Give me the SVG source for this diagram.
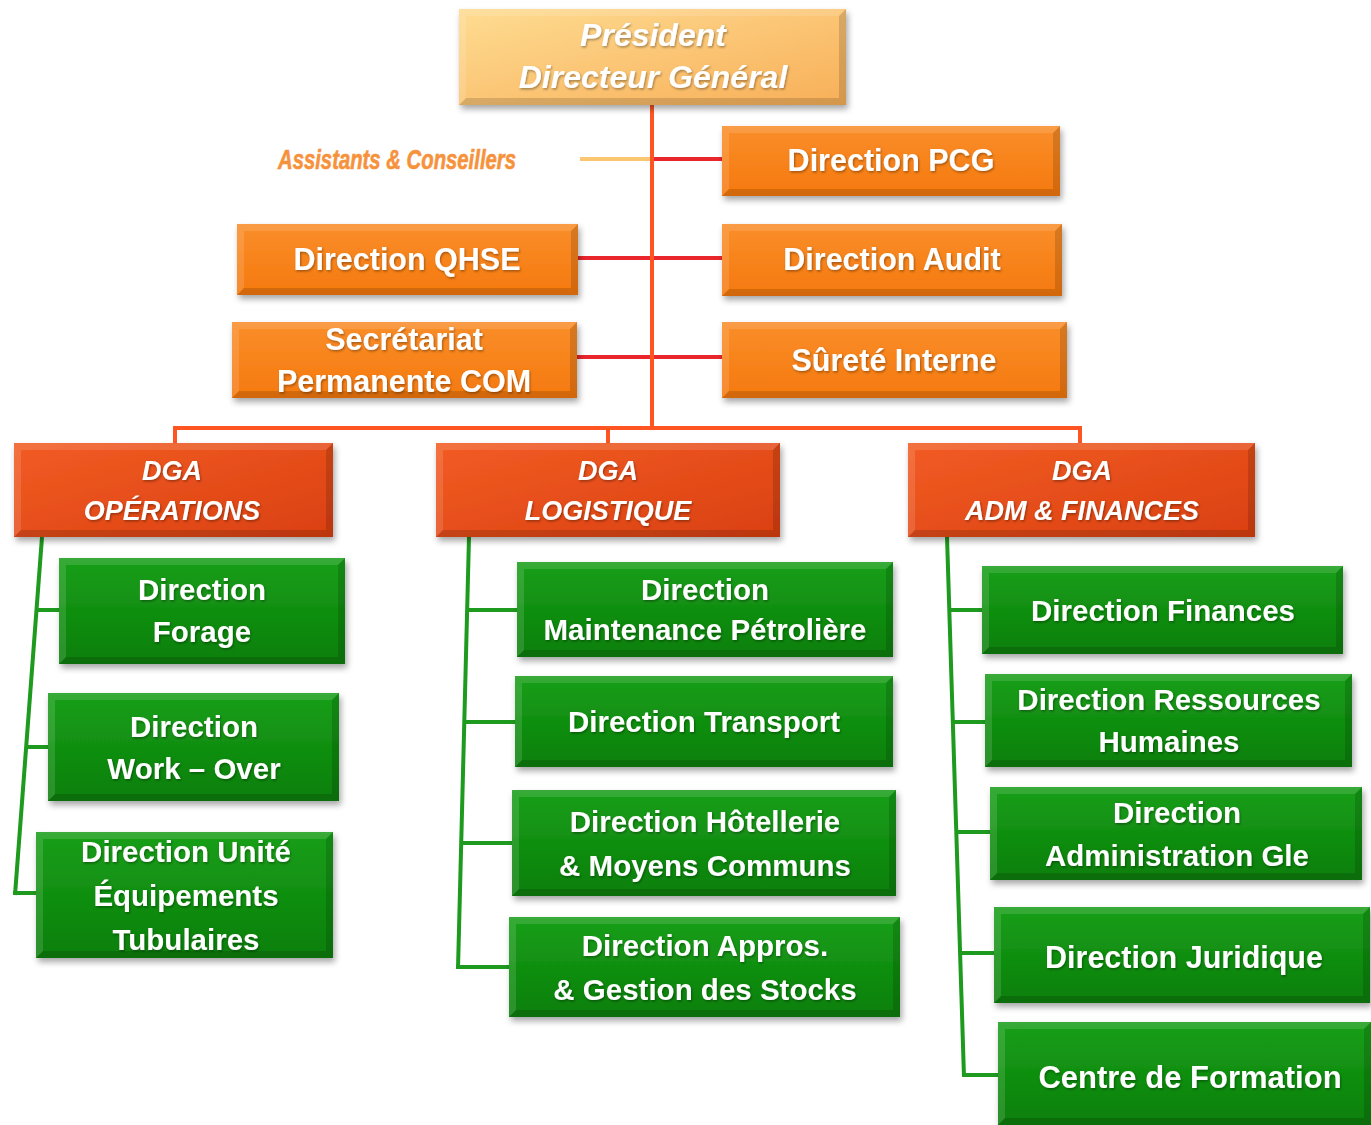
<svg xmlns="http://www.w3.org/2000/svg" width="1371" height="1125" viewBox="0 0 1371 1125">
<style>
.box{filter:url(#ds)}
.hl{fill:#ffffff;fill-opacity:0.13}
.sh{fill:#000000;fill-opacity:0.14}
.t{font-family:"Liberation Sans",Arial,sans-serif;font-weight:bold;fill:#ffffff;text-anchor:middle;filter:url(#ts)}
.ti{font-style:italic}
.s32{font-size:32px}
.s30{font-size:30.5px}
.s27{font-size:27px}
.s29{font-size:29.5px}
.s31{font-size:31px}
.pres{fill:url(#gPres)}
.or{fill:url(#gOr)}
.dga{fill:url(#gDga)}
.gr{fill:url(#gGr)}
.cOr{stroke:#FF5522;stroke-width:4;fill:none}
.cRed{stroke:#E8262C;stroke-width:4;fill:none}
.cPale{stroke:#FBC670;stroke-width:4;fill:none}
.cGr{stroke:#1E9A1E;stroke-width:4;fill:none}
</style>
<defs>
<linearGradient id="gPres" x1="0" y1="0" x2="1" y2="1"><stop offset="0" stop-color="#FEDC92"/><stop offset="1" stop-color="#F8AF58"/></linearGradient>
<linearGradient id="gOr" x1="0" y1="0" x2="0" y2="1"><stop offset="0" stop-color="#FA8E2A"/><stop offset="1" stop-color="#F5790E"/></linearGradient>
<linearGradient id="gDga" x1="0" y1="0" x2="1" y2="1"><stop offset="0" stop-color="#F25C24"/><stop offset="1" stop-color="#DA4010"/></linearGradient>
<linearGradient id="gGr" x1="0" y1="0" x2="0" y2="1"><stop offset="0" stop-color="#1A9F1A"/><stop offset="1" stop-color="#077F07"/></linearGradient>
<filter id="ds" x="-10%" y="-10%" width="125%" height="130%"><feDropShadow dx="2" dy="4" stdDeviation="3" flood-color="#000" flood-opacity="0.35"/></filter>
<filter id="ts" x="-5%" y="-20%" width="110%" height="150%"><feDropShadow dx="1" dy="1.5" stdDeviation="1" flood-color="#000" flood-opacity="0.35"/></filter>
</defs>

<g id="connectors">
<line class="cPale" x1="580" y1="159" x2="651" y2="159"/>
<line class="cRed" x1="653" y1="159" x2="724" y2="159"/>
<line class="cRed" x1="576" y1="258" x2="724" y2="258"/>
<line class="cRed" x1="575" y1="357" x2="724" y2="357"/>
<line class="cOr" x1="652" y1="105" x2="652" y2="428"/>
<polyline class="cOr" points="175,445 175,428 1080,428 1080,445"/>
<line class="cOr" x1="608" y1="428" x2="608" y2="445"/>
<line class="cGr" x1="42" y1="537" x2="15" y2="895"/>
<polyline class="cGr" points="37,610 61,610"/>
<polyline class="cGr" points="26,747 50,747"/>
<polyline class="cGr" points="13,893 38,893"/>
<line class="cGr" x1="469" y1="537" x2="458" y2="969"/>
<polyline class="cGr" points="466,610 519,610"/>
<polyline class="cGr" points="463,722 517,722"/>
<polyline class="cGr" points="460,843 514,843"/>
<polyline class="cGr" points="456,967 511,967"/>
<line class="cGr" x1="947" y1="537" x2="964" y2="1077"/>
<polyline class="cGr" points="949,610 984,610"/>
<polyline class="cGr" points="952,722 987,722"/>
<polyline class="cGr" points="955,832 992,832"/>
<polyline class="cGr" points="959,953 996,953"/>
<polyline class="cGr" points="962,1075 1000,1075"/>
</g>

<text id="assistants" x="397" y="169" font-family="Liberation Sans, Arial, sans-serif" font-weight="bold" font-style="italic" font-size="27" fill="#F7923C" stroke="#F7923C" stroke-width="0.6" text-anchor="middle" textLength="238" lengthAdjust="spacingAndGlyphs">Assistants &amp; Conseillers</text>

<g id="president" transform="translate(459,9)">
<rect class="box pres" width="387" height="96"/>
<path class="hl" d="M0,0H387L380,7H7V89L0,96Z"/><path class="sh" d="M387,0V96H0L7,89H380V7Z"/>
<text class="t ti s32" x="194" y="37">Président</text>
<text class="t ti s32" x="194" y="79">Directeur Général</text>
</g>

<g id="pcg" transform="translate(722,126)">
<rect class="box or" width="338" height="70"/>
<path class="hl" d="M0,0H338L331,7H7V63L0,70Z"/><path class="sh" d="M338,0V70H0L7,63H331V7Z"/>
<text class="t s30" x="169" y="45">Direction PCG</text>
</g>

<g id="qhse" transform="translate(237,224)">
<rect class="box or" width="341" height="71"/>
<path class="hl" d="M0,0H341L334,7H7V64L0,71Z"/><path class="sh" d="M341,0V71H0L7,64H334V7Z"/>
<text class="t s30" x="170" y="46">Direction QHSE</text>
</g>

<g id="audit" transform="translate(722,224)">
<rect class="box or" width="340" height="72"/>
<path class="hl" d="M0,0H340L333,7H7V65L0,72Z"/><path class="sh" d="M340,0V72H0L7,65H333V7Z"/>
<text class="t s30" x="170" y="46">Direction Audit</text>
</g>

<g id="secretariat" transform="translate(232,322)">
<rect class="box or" width="345" height="76"/>
<path class="hl" d="M0,0H345L338,7H7V69L0,76Z"/><path class="sh" d="M345,0V76H0L7,69H338V7Z"/>
<text class="t s30" x="172" y="28">Secrétariat</text>
<text class="t s30" x="172" y="70">Permanente COM</text>
</g>

<g id="surete" transform="translate(722,322)">
<rect class="box or" width="345" height="76"/>
<path class="hl" d="M0,0H345L338,7H7V69L0,76Z"/><path class="sh" d="M345,0V76H0L7,69H338V7Z"/>
<text class="t s30" x="172" y="49">Sûreté Interne</text>
</g>

<g id="dga-operations" transform="translate(14,443)">
<rect class="box dga" width="319" height="94"/>
<path class="hl" d="M0,0H319L312,7H7V87L0,94Z"/><path class="sh" d="M319,0V94H0L7,87H312V7Z"/>
<text class="t ti s27" x="158" y="37">DGA</text>
<text class="t ti s27" x="158" y="77">OPÉRATIONS</text>
</g>

<g id="dga-logistique" transform="translate(436,443)">
<rect class="box dga" width="344" height="94"/>
<path class="hl" d="M0,0H344L337,7H7V87L0,94Z"/><path class="sh" d="M344,0V94H0L7,87H337V7Z"/>
<text class="t ti s27" x="172" y="37">DGA</text>
<text class="t ti s27" x="172" y="77">LOGISTIQUE</text>
</g>

<g id="dga-adm-finances" transform="translate(908,443)">
<rect class="box dga" width="347" height="94"/>
<path class="hl" d="M0,0H347L340,7H7V87L0,94Z"/><path class="sh" d="M347,0V94H0L7,87H340V7Z"/>
<text class="t ti s27" x="174" y="37">DGA</text>
<text class="t ti s27" x="174" y="77">ADM &amp; FINANCES</text>
</g>

<g id="forage" transform="translate(59,558)">
<rect class="box gr" width="286" height="106"/>
<path class="hl" d="M0,0H286L279,7H7V99L0,106Z"/><path class="sh" d="M286,0V106H0L7,99H279V7Z"/>
<text class="t s29" x="143" y="42">Direction</text>
<text class="t s29" x="143" y="84">Forage</text>
</g>

<g id="workover" transform="translate(48,693)">
<rect class="box gr" width="291" height="108"/>
<path class="hl" d="M0,0H291L284,7H7V101L0,108Z"/><path class="sh" d="M291,0V108H0L7,101H284V7Z"/>
<text class="t s29" x="146" y="44">Direction</text>
<text class="t s29" x="146" y="86">Work – Over</text>
</g>

<g id="unite" transform="translate(36,832)">
<rect class="box gr" width="297" height="126"/>
<path class="hl" d="M0,0H297L290,7H7V119L0,126Z"/><path class="sh" d="M297,0V126H0L7,119H290V7Z"/>
<text class="t s29" x="150" y="30">Direction Unité</text>
<text class="t s29" x="150" y="74">Équipements</text>
<text class="t s29" x="150" y="118">Tubulaires</text>
</g>

<g id="maintenance" transform="translate(517,562)">
<rect class="box gr" width="376" height="95"/>
<path class="hl" d="M0,0H376L369,7H7V88L0,95Z"/><path class="sh" d="M376,0V95H0L7,88H369V7Z"/>
<text class="t s29" x="188" y="38">Direction</text>
<text class="t s29" x="188" y="78">Maintenance Pétrolière</text>
</g>

<g id="transport" transform="translate(515,676)">
<rect class="box gr" width="378" height="91"/>
<path class="hl" d="M0,0H378L371,7H7V84L0,91Z"/><path class="sh" d="M378,0V91H0L7,84H371V7Z"/>
<text class="t s29" x="189" y="56">Direction Transport</text>
</g>

<g id="hotellerie" transform="translate(512,790)">
<rect class="box gr" width="384" height="106"/>
<path class="hl" d="M0,0H384L377,7H7V99L0,106Z"/><path class="sh" d="M384,0V106H0L7,99H377V7Z"/>
<text class="t s29" x="193" y="42">Direction Hôtellerie</text>
<text class="t s29" x="193" y="86">&amp; Moyens Communs</text>
</g>

<g id="appros" transform="translate(509,917)">
<rect class="box gr" width="391" height="100"/>
<path class="hl" d="M0,0H391L384,7H7V93L0,100Z"/><path class="sh" d="M391,0V100H0L7,93H384V7Z"/>
<text class="t s29" x="196" y="39">Direction Appros.</text>
<text class="t s29" x="196" y="83">&amp; Gestion des Stocks</text>
</g>

<g id="finances" transform="translate(982,566)">
<rect class="box gr" width="361" height="88"/>
<path class="hl" d="M0,0H361L354,7H7V81L0,88Z"/><path class="sh" d="M361,0V88H0L7,81H354V7Z"/>
<text class="t s29" x="181" y="55">Direction Finances</text>
</g>

<g id="rh" transform="translate(985,674)">
<rect class="box gr" width="367" height="93"/>
<path class="hl" d="M0,0H367L360,7H7V86L0,93Z"/><path class="sh" d="M367,0V93H0L7,86H360V7Z"/>
<text class="t s29" x="184" y="36">Direction Ressources</text>
<text class="t s29" x="184" y="78">Humaines</text>
</g>

<g id="administration" transform="translate(990,787)">
<rect class="box gr" width="372" height="93"/>
<path class="hl" d="M0,0H372L365,7H7V86L0,93Z"/><path class="sh" d="M372,0V93H0L7,86H365V7Z"/>
<text class="t s29" x="187" y="36">Direction</text>
<text class="t s29" x="187" y="79">Administration Gle</text>
</g>

<g id="juridique" transform="translate(994,907)">
<rect class="box gr" width="376" height="96"/>
<path class="hl" d="M0,0H376L369,7H7V89L0,96Z"/><path class="sh" d="M376,0V96H0L7,89H369V7Z"/>
<text class="t s30" x="190" y="61">Direction Juridique</text>
</g>

<g id="centre-formation" transform="translate(998,1022)">
<rect class="box gr" width="373" height="103"/>
<path class="hl" d="M0,0H373L366,7H7V96L0,103Z"/><path class="sh" d="M373,0V103H0L7,96H366V7Z"/>
<text class="t s31" x="192" y="66">Centre de Formation</text>
</g>
</svg>
